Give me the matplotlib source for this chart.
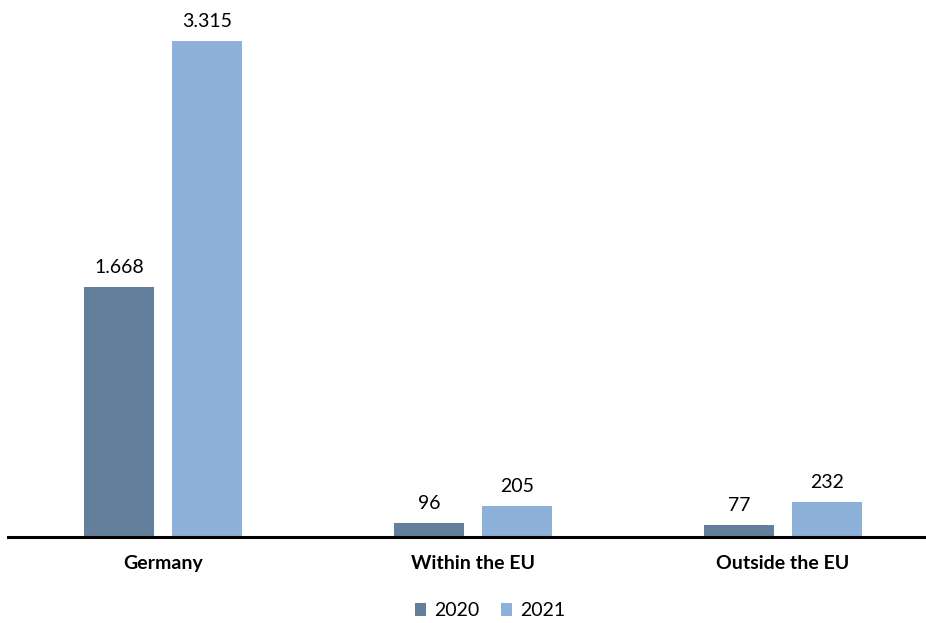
import numpy as np
import matplotlib.pyplot as plt

# Werte
kategorien = ["Germany", "Within the EU", "Outside the EU"]
werte_2020 = [1668, 96, 77]
werte_2021 = [3315, 205, 232]
jahre = ["2020", "2021"]

farben = ["#647F9C", "#8EB1DA"]

plt.rcParams['font.family'] = ['Lato', 'DejaVu Sans']

fig = plt.figure(figsize=(9.26, 6.23), dpi=100)
ax = fig.add_axes([8 / 926, 86 / 623, 918 / 926, 527 / 623])

x = np.arange(len(kategorien))
breite = 70 / 310
versatz = 44 / 310

b1 = ax.bar(x - versatz, werte_2020, breite, color=farben[0], label=jahre[0])
b2 = ax.bar(x + versatz, werte_2021, breite, color=farben[1], label=jahre[1])

# Beschriftung der Balken (Tausenderpunkt)
def fmt(v):
    return f"{v:,}".replace(",", ".")

for balken, werte in ((b1, werte_2020), (b2, werte_2021)):
    for rect, v in zip(balken, werte):
        ax.annotate(fmt(v), (rect.get_x() + rect.get_width() / 2, v),
                    xytext=(0, 8), textcoords="offset points",
                    ha="center", va="bottom", fontsize=14)

ax.set_xlim(-0.5, -0.5 + 918 / 310)
ax.set_ylim(0, 527 * 3315 / 496)

for s in ["top", "right", "left"]:
    ax.spines[s].set_visible(False)
ax.spines["bottom"].set_linewidth(2.2)
ax.spines["bottom"].set_color("black")
ax.set_yticks([])
ax.set_xticks(x)
ax.set_xticklabels(kategorien, fontweight="bold", fontsize=14)
ax.tick_params(axis="x", length=0, pad=13)

fig.legend(loc="center", bbox_to_anchor=(490 / 926, 1 - 611 / 623), ncol=2,
           frameon=False, fontsize=14, handlelength=0.6, handleheight=0.6,
           columnspacing=1.1, handletextpad=0.4)

fig.savefig("out.png", dpi=100)
